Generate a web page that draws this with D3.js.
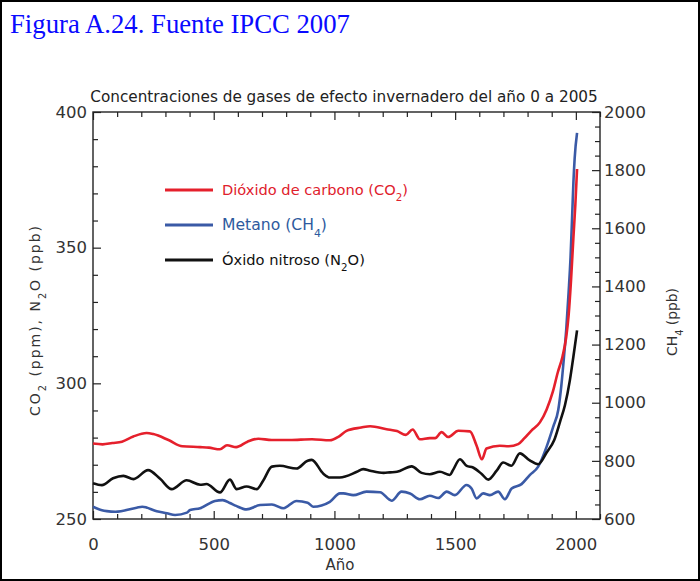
<!DOCTYPE html>
<html><head><meta charset="utf-8">
<script src="https://cdn.jsdelivr.net/npm/d3@7"></script>
<style>body{margin:0;background:#fff}</style>
</head><body>
<svg id="c" width="700" height="581"></svg>
<script>
// ---- data ----
const co2Years = [0,40,80,120,167,222,250,315,370,444,480,526,555,593,640,685,740,815,907,981,1018,1050,1111,1148,1216,1259,1296,1324,1354,1395,1417,1444,1471,1513,1561,1589,1611,1630,1685,1722,1761,1787,1815,1851,1879,1905,1925,1945,1960,1970,1980,1990,1998,2005];
const co2Values = [277.8,277.5,278,278.5,280.4,281.7,281.3,279,276.8,276.5,276.3,275.7,277.2,276.5,278.5,279.6,279.1,279.1,279.4,279.0,280.4,282.5,283.7,284.2,283.1,282.4,281,283,279.4,279.8,279.8,282,280.2,282.5,282.3,277,272,276,277,276.8,277.6,279.8,282.5,285.6,290.4,297,304,310,317,325,338,354,366,379];

const n2oYears = [0,37,83,126,168,228,278,326,388,444,470,526,567,595,636,678,704,741,774,843,889,906,954,981,1022,1093,1119,1148,1204,1230,1259,1320,1361,1395,1437,1478,1491,1520,1548,1574,1611,1637,1672,1699,1733,1768,1809,1844,1879,1910,1935,1955,1975,1990,2005];
const n2oValues = [263.2,262.5,265,265.9,264.7,268,264.8,261,264.3,262.6,262.9,259.8,264.5,261,262,261,264,269.3,269.6,268.6,271.5,271.8,266.7,265.3,265.3,267.4,268.4,267.8,267,267.2,267.4,269.4,267,266.5,267.4,266.2,268,272,269.6,269,266.5,264.5,267.8,270.8,269.6,274.2,271.6,270.2,274.5,279,286,292,301,310,319.5];

const ch4Years = [0,37,57,93,181,204,264,306,340,389,402,444,505,537,567,593,636,692,741,788,843,889,912,981,1023,1037,1078,1133,1189,1237,1278,1313,1354,1395,1430,1465,1499,1547,1568,1589,1616,1644,1678,1706,1734,1775,1809,1844,1879,1906,1927,1940,1950,1960,1970,1978,1985,1990,1995,2005];
const ch4Values = [642,630,627,625,639,642,627,620,614,622,631,637,662,665,655,645,633,648,650,637,662,656,642,659,688,688,682,694,692,663,694,688,668,680,672,694,682,717,705,671,688,682,694,668,705,720,751,780,849,917,975,1060,1150,1250,1380,1500,1650,1760,1840,1928];

const leftTicks = [250,300,350,400];
const rightTicks = [600,800,1000,1200,1400,1600,1800,2000];
const xTicks = [0,500,1000,1500,2000];

const figTitle = "Figura A.24. Fuente IPCC 2007";
const chartTitle = "Concentraciones de gases de efecto invernadero del año 0 a 2005";
const xLabel = "Año";
const leftLabel = [["CO",0],["2",1],[" (ppm), N",0],["2",1],["O (ppb)",0]];
const rightLabel = [["CH",0],["4",1],[" (ppb)",0]];
const legendItems = [
  {parts:[["Dióxido de carbono (CO",0],["2",1],[")",0]], color:"#e5202c", text:"#e0202c", w:186},
  {parts:[["Metano (CH",0],["4",1],[")",0]], color:"#3a5aa6", text:"#2e5a9e", w:105},
  {parts:[["Óxido nitroso (N",0],["2",1],["O)",0]], color:"#111111", text:"#111111", w:143}
];

// ---- drawing ----
const svg = d3.select("#c");
const FONT = "DejaVu Sans";
const x = d3.scaleLinear().domain([0,2100]).range([93,600]);
const yL = d3.scaleLinear().domain([250,400]).range([519,112]);
const yR = d3.scaleLinear().domain([600,2000]).range([519,112]);

function rich(t, parts){
  parts.forEach(([s,sub])=>{
    const ts = t.append("tspan").text(s);
    if(sub) ts.attr("font-size","0.7em").attr("baseline-shift","sub");
  });
  return t;
}
function fit(t, w){
  const fs = parseFloat(t.attr("font-size"));
  const len = t.node().getComputedTextLength();
  t.attr("font-size", fs*w/len);
  return t;
}
function spread(t, w){
  const len = t.node().getComputedTextLength();
  const n = t.text().length;
  t.attr("letter-spacing", (w-len)/n);
  return t;
}

svg.append("rect").attr("x",1).attr("y",1).attr("width",698).attr("height",579)
  .attr("fill","none").attr("stroke","#000").attr("stroke-width",2);

fit(svg.append("text").attr("x",10).attr("y",33).attr("font-family","Liberation Serif")
  .attr("font-size",26).attr("fill","#0a0aff").text(figTitle), 340);

fit(svg.append("text").attr("x",344).attr("y",102).attr("text-anchor","middle")
  .attr("font-family",FONT).attr("font-size",14).attr("fill","#222").text(chartTitle), 508);

// axes
function styleAxis(g){
  g.select(".domain").remove();
  g.selectAll("line").attr("stroke","#222").attr("stroke-width",1.2);
  g.selectAll("text").attr("font-family",FONT).attr("font-size",16.5).attr("fill","#333");
}
const fmt = d3.format("d");
const minorX = d3.range(0,2101,100).filter(v=>v%500!==0);
svg.append("g").attr("transform","translate(0,519)")
  .call(d3.axisBottom(x).tickValues(xTicks).tickSize(-8).tickPadding(19).tickFormat(fmt)).call(styleAxis);
svg.append("g").attr("transform","translate(0,519)")
  .call(d3.axisBottom(x).tickValues(minorX).tickSize(-5).tickFormat("")).call(styleAxis);
svg.append("g").attr("transform","translate(0,112)")
  .call(d3.axisTop(x).tickValues(xTicks).tickSize(-8).tickFormat("")).call(styleAxis);
svg.append("g").attr("transform","translate(0,112)")
  .call(d3.axisTop(x).tickValues(minorX).tickSize(-5).tickFormat("")).call(styleAxis);

const minorL = d3.range(260,400,10).filter(v=>v%50!==0);
svg.append("g").attr("transform","translate(93,0)")
  .call(d3.axisLeft(yL).tickValues(leftTicks).tickSize(-8).tickPadding(6).tickFormat(fmt)).call(styleAxis);
svg.append("g").attr("transform","translate(93,0)")
  .call(d3.axisLeft(yL).tickValues(minorL).tickSize(-5).tickFormat("")).call(styleAxis);

const minorR = d3.range(650,2000,50).filter(v=>v%200!==0);
svg.append("g").attr("transform","translate(600,0)")
  .call(d3.axisRight(yR).tickValues(rightTicks).tickSize(-8).tickPadding(4).tickFormat(fmt)).call(styleAxis);
svg.append("g").attr("transform","translate(600,0)")
  .call(d3.axisRight(yR).tickValues(minorR).tickSize(-5).tickFormat("")).call(styleAxis);

svg.append("rect").attr("x",93).attr("y",112).attr("width",507).attr("height",407)
  .attr("fill","none").attr("stroke","#222").attr("stroke-width",1.4);

// axis titles
svg.append("text").attr("x",340).attr("y",570).attr("text-anchor","middle")
  .attr("font-family",FONT).attr("font-size",15).attr("fill","#333").text(xLabel);
spread(rich(svg.append("text").attr("transform","translate(40,320) rotate(-90)").attr("text-anchor","middle")
  .attr("font-family",FONT).attr("font-size",14).attr("fill","#333"), leftLabel), 192);
spread(rich(svg.append("text").attr("transform","translate(677,322) rotate(-90)").attr("text-anchor","middle")
  .attr("font-family",FONT).attr("font-size",14).attr("fill","#333"), rightLabel), 68);

// series
const lineL = d3.line().x(d=>x(d[0])).y(d=>yL(d[1])).curve(d3.curveMonotoneX);
const lineR = d3.line().x(d=>x(d[0])).y(d=>yR(d[1])).curve(d3.curveMonotoneX);
const zip = (a,b)=>a.map((v,i)=>[v,b[i]]);
const plot = svg.append("g").attr("fill","none").attr("stroke-width",2.6).attr("stroke-linejoin","round");
plot.append("path").attr("d", lineR(zip(ch4Years,ch4Values))).attr("stroke",legendItems[1].color);
plot.append("path").attr("d", lineL(zip(n2oYears,n2oValues))).attr("stroke",legendItems[2].color);
plot.append("path").attr("d", lineL(zip(co2Years,co2Values))).attr("stroke",legendItems[0].color);

// legend
const legY = [190,225,260];
legendItems.forEach((it,i)=>{
  svg.append("line").attr("x1",165).attr("x2",213).attr("y1",legY[i]).attr("y2",legY[i])
    .attr("stroke",it.color).attr("stroke-width",3);
  fit(rich(svg.append("text").attr("x",222).attr("y",legY[i]).attr("dy","0.35em")
    .attr("font-family",FONT).attr("font-size",12).attr("fill",it.text), it.parts), it.w);
});
</script>
</body></html>
